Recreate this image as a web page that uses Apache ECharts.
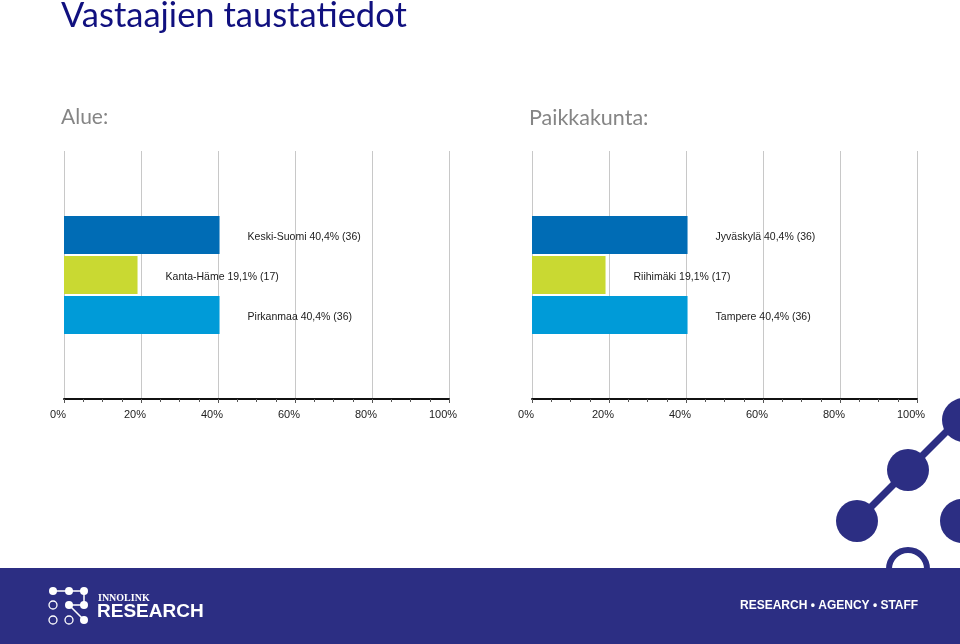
<!DOCTYPE html>
<html>
<head>
<meta charset="utf-8">
<script src="https://cdn.jsdelivr.net/npm/echarts@6/dist/echarts.min.js"></script>
<style>html,body{margin:0;padding:0;background:#fff}#c{width:960px;height:644px}</style>
</head>
<body>
<div id="c"></div>
<script>
var titleText = 'Vastaajien taustatiedot';
var leftTitle = 'Alue:';
var rightTitle = 'Paikkakunta:';
var areaNames = ['Keski-Suomi', 'Kanta-Häme', 'Pirkanmaa'];
var areaPct = [40.4, 19.1, 40.4];
var areaCount = [36, 17, 36];
var cityNames = ['Jyväskylä', 'Riihimäki', 'Tampere'];
var cityPct = [40.4, 19.1, 40.4];
var cityCount = [36, 17, 36];
var tickValues = [0, 20, 40, 60, 80, 100];

var barColors = ['#006CB5', '#C9D932', '#009BD8'];
var navy = '#2C2E83';
var FONT = '"Liberation Sans", Arial, sans-serif';

function fmtPct(v) { return v.toFixed(1).replace('.', ',') + '%'; }

function axisGrid(idx) {
  return {
    type: 'value', gridIndex: idx, min: tickValues[0], max: tickValues[tickValues.length - 1], interval: 20,
    axisLine: { show: true, onZero: false, lineStyle: { color: '#111', width: 2 } },
    axisTick: { show: true, length: 4, inside: false, lineStyle: { color: '#555' } },
    minorTick: { show: true, splitNumber: 4, length: 3, lineStyle: { color: '#555' } },
    splitLine: { show: true, lineStyle: { color: '#c8c8c8', width: 1 } },
    axisLabel: { formatter: '{value}%', fontFamily: FONT, fontSize: 11, color: '#222', margin: 10, padding: [0, 12, 0, 0] }
  };
}
function hiddenX(idx) {
  return { type: 'value', gridIndex: idx, min: 0, max: 100, show: false, splitLine: { show: false } };
}
function hiddenY(idx, names) {
  return { type: 'category', gridIndex: idx, data: names, inverse: true, show: false };
}
function barSeries(xi, yi, names, pct, counts) {
  return {
    type: 'bar', xAxisIndex: xi, yAxisIndex: yi, barWidth: 38,
    data: pct.map(function (v, i) { return { value: v, itemStyle: { color: barColors[i] } }; }),
    label: {
      show: true, position: 'right', distance: 28, offset: [0, 2], fontFamily: FONT, fontSize: 10.5, color: '#1a1a1a',
      formatter: function (p) { return names[p.dataIndex] + ' ' + fmtPct(pct[p.dataIndex]) + ' (' + counts[p.dataIndex] + ')'; }
    },
    silent: true, animation: false
  };
}

var chart = echarts.init(document.getElementById('c'), null, { renderer: 'canvas' });

var logoDots = [
  [53, 591, 1], [69, 591, 1], [84, 591, 1],
  [53, 605, 0], [69, 605, 1], [84, 605, 1],
  [53, 620, 0], [69, 620, 0], [84, 620, 1]
];
var graphics = [
  { type: 'circle', shape: { cx: 908, cy: 569, r: 19 }, style: { fill: 'none', stroke: navy, lineWidth: 6 }, z: 1 },
  { type: 'line', shape: { x1: 857, y1: 521, x2: 962, y2: 416 }, style: { stroke: navy, lineWidth: 7 }, z: 1 },
  { type: 'circle', shape: { cx: 857, cy: 521, r: 21 }, style: { fill: navy }, z: 1 },
  { type: 'circle', shape: { cx: 908, cy: 470, r: 21 }, style: { fill: navy }, z: 1 },
  { type: 'circle', shape: { cx: 962, cy: 521, r: 22 }, style: { fill: navy }, z: 1 },
  { type: 'circle', shape: { cx: 964, cy: 420, r: 22 }, style: { fill: navy }, z: 1 },
  { type: 'rect', shape: { x: 0, y: 568, width: 960, height: 76 }, style: { fill: navy }, z: 5 },
  { type: 'polyline', shape: { points: [[53, 591], [84, 591], [84, 605], [69, 605], [84, 620]] }, style: { stroke: '#fff', lineWidth: 1.5, fill: 'none' }, z: 6 },
  { type: 'text', style: { text: 'INNOLINK', x: 98, y: 598, fill: '#fff', font: 'bold 10px "Liberation Serif", serif', textVerticalAlign: 'middle' }, z: 7 },
  { type: 'text', style: { text: 'RESEARCH', x: 97, y: 612, fill: '#fff', font: 'bold 19px ' + FONT, textVerticalAlign: 'middle' }, z: 7 },
  { type: 'text', style: { text: 'RESEARCH • AGENCY • STAFF', x: 740, y: 606, fill: '#fff', font: 'bold 12px ' + FONT, textVerticalAlign: 'middle' }, z: 7 }
];
logoDots.forEach(function (d) {
  graphics.push({ type: 'circle', shape: { cx: d[0], cy: d[1], r: 4 }, style: d[2] ? { fill: '#fff' } : { fill: navy, stroke: '#fff', lineWidth: 1.3 }, z: 7 });
});

chart.setOption({
  animation: false,
  backgroundColor: '#fff',
  title: [
    { text: titleText, left: 56, top: -7, textStyle: { fontFamily: 'Lato, sans-serif', fontSize: 34.5, fontWeight: 'normal', color: '#10107F' } },
    { text: leftTitle, left: 56, top: 102, textStyle: { fontFamily: 'Lato, sans-serif', fontSize: 21, fontWeight: 'normal', color: '#858585' } },
    { text: rightTitle, left: 524, top: 102, textStyle: { fontFamily: 'Lato, sans-serif', fontSize: 21.5, fontWeight: 'normal', color: '#858585' } }
  ],
  grid: [
    { left: 64, width: 385, top: 151, height: 248 },
    { left: 532, width: 385, top: 151, height: 248 },
    { left: 64, width: 385, top: 215, height: 120 },
    { left: 532, width: 385, top: 215, height: 120 }
  ],
  xAxis: [axisGrid(0), axisGrid(1), hiddenX(2), hiddenX(3)],
  yAxis: [
    { type: 'value', gridIndex: 0, show: false, splitLine: { show: false } },
    { type: 'value', gridIndex: 1, show: false, splitLine: { show: false } },
    hiddenY(2, areaNames), hiddenY(3, cityNames)
  ],
  series: [
    barSeries(2, 2, areaNames, areaPct, areaCount),
    barSeries(3, 3, cityNames, cityPct, cityCount)
  ],
  graphic: graphics
});
</script>
</body>
</html>
